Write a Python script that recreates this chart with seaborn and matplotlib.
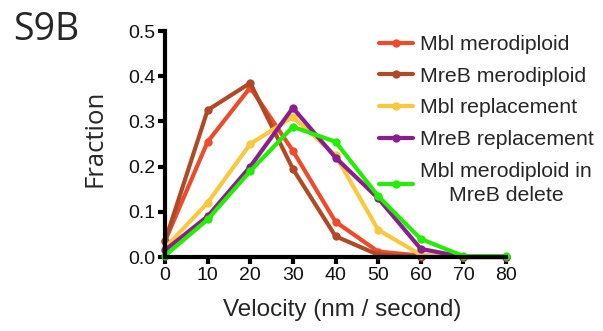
import pandas as pd
import matplotlib
matplotlib.use('Agg')
import matplotlib.pyplot as plt
import seaborn as sns

velocity = [0, 10, 20, 30, 40, 50, 60, 70, 80]
mbl_merodiploid = [0.035, 0.255, 0.375, 0.235, 0.078, 0.012, 0.003, 0.0, 0.0]
mreb_merodiploid = [0.035, 0.325, 0.385, 0.195, 0.046, 0.005, 0.001, 0.0, 0.0]
mbl_replacement = [0.02, 0.12, 0.25, 0.31, 0.225, 0.06, 0.005, 0.0, 0.0]
mreb_replacement = [0.015, 0.09, 0.2, 0.33, 0.22, 0.13, 0.018, 0.0, 0.0]
mbl_in_mreb_delete = [0.003, 0.083, 0.19, 0.288, 0.255, 0.135, 0.04, 0.002, 0.002]

labels = ['Mbl merodiploid', 'MreB merodiploid', 'Mbl replacement',
          'MreB replacement', 'Mbl merodiploid in\nMreB delete']
colors = ['#EE4A2B', '#B04A26', '#F9C83C', '#8B1E8F', '#22EE00']

series = [mbl_merodiploid, mreb_merodiploid, mbl_replacement,
          mreb_replacement, mbl_in_mreb_delete]
df = pd.concat([pd.DataFrame({'Velocity': velocity, 'Fraction': s, 'Strain': lab})
                for s, lab in zip(series, labels)])

sns.set_style('ticks')
plt.rcParams['font.family'] = ['Liberation Sans', 'DejaVu Sans']

fig = plt.figure(figsize=(6.03, 3.31), dpi=100)
ax = fig.add_axes([165 / 603, 1 - 257 / 331, 341 / 603, 226 / 331])

sns.lineplot(data=df, x='Velocity', y='Fraction', hue='Strain', hue_order=labels,
             palette=colors, marker='o', markersize=6, markeredgewidth=0,
             linewidth=3, legend=False, ax=ax)
for ln in ax.lines:
    ln.set_clip_on(False)

ax.set_xlim(0, 80)
ax.set_ylim(0, 0.5)
ax.set_xticks(velocity)
ax.set_yticks([0.0, 0.1, 0.2, 0.3, 0.4, 0.5])
ax.set_yticklabels(['0.0', '0.1', '0.2', '0.3', '0.4', '0.5'])
sns.despine(ax=ax)
for sp in ['left', 'bottom']:
    ax.spines[sp].set_linewidth(3)
    ax.spines[sp].set_color('black')
ax.tick_params(axis='both', length=5, width=3, color='black', labelsize=14,
               pad=2, labelcolor='#111111')

ax.set_xlabel('Velocity (nm / second)', fontsize=17.5, labelpad=19)
ax.xaxis.set_label_coords(0.519, -0.185)
ax.set_ylabel('Fraction', fontsize=18.5, family=['Open Sans', 'DejaVu Sans'])
ax.yaxis.set_label_coords(-0.17, 0.527)

leg = ax.legend(ax.lines, labels, loc='upper left', bbox_to_anchor=(0.602, 1.02),
                frameon=False, fontsize=15.3, handlelength=1.6, handletextpad=0.35,
                labelspacing=0.6, borderaxespad=0)
for t in leg.get_texts():
    t.set_multialignment('center')
leg.get_texts()[-1].set_linespacing(1.35)

fig.text(13 / 603, 1 - 40 / 331, 'S9B', fontsize=27,
         family=['Open Sans', 'DejaVu Sans'])

fig.savefig('out.png', dpi=100)
